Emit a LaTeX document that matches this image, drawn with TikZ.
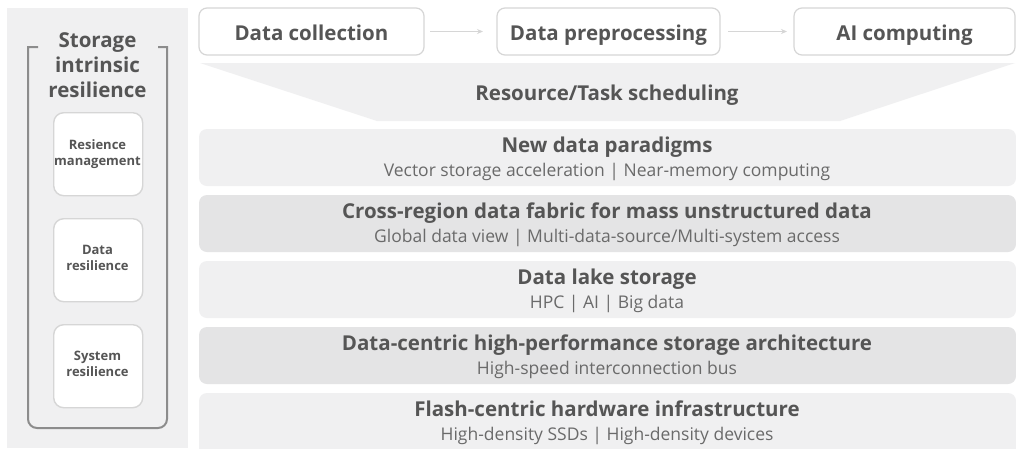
\documentclass[tikz,border=0pt]{standalone}
\usepackage{fontspec}
\setmainfont{Open Sans}
\usetikzlibrary{arrows.meta}
\definecolor{panelgray}{HTML}{F0F0F1}
\definecolor{bardark}{HTML}{E4E4E5}
\definecolor{edgegray}{HTML}{D6D6D6}
\definecolor{bracketgray}{HTML}{8C8C8C}
\definecolor{txtdark}{HTML}{555555}
\definecolor{txtsub}{HTML}{6A6A6A}
\tikzset{
  flowbox/.style={draw=edgegray, line width=1.2pt, fill=white, rounded corners=8pt},
  flowtext/.style={anchor=base, inner sep=0pt, font=\bfseries\fontsize{20.5}{24}\selectfont, text=txtdark},
  flowarrow/.style={draw=edgegray, line width=1pt, -{Stealth[length=6pt,width=5pt]}},
  layerlight/.style={fill=panelgray, draw=none, rounded corners=8pt},
  layerdark/.style={fill=bardark, draw=none, rounded corners=8pt},
  layertitle/.style={anchor=base, font=\bfseries\fontsize{20.5}{24}\selectfont, text=txtdark, inner sep=0pt},
  layersub/.style={anchor=base, font=\fontsize{17.5}{20}\selectfont, text=txtsub, inner sep=0pt},
  resbox/.style={draw=edgegray, line width=1.4pt, fill=white, rounded corners=10pt,
    minimum width=89pt, minimum height=83pt, anchor=north west, inner sep=0pt},
  restext/.style={anchor=base, inner sep=0pt, font=\bfseries\fontsize{13}{16}\selectfont, text=txtdark},
  sidetitle/.style={anchor=base, font=\bfseries\fontsize{20.5}{25}\selectfont, text=txtdark, inner sep=0pt}
}
\begin{document}
\begin{tikzpicture}[x=1pt,y=-1pt]
\useasboundingbox (0,0) rectangle (1016,448);
\fill[white] (0,0) rectangle (1016,448);

% left panel
\fill[panelgray] (7,8) rectangle (188,448);
\draw[bracketgray, line width=2pt]
  (38,47) -- (28,47) [rounded corners=9pt] -- (28,428) -- (167,428) [sharp corners] -- (167,47) -- (158,47);
\node[sidetitle] (t1) at (97.5,47) {Storage};
\node[sidetitle] (t2) at (97.5,72) {intrinsic};
\node[sidetitle] (t3) at (97.5,97) {resilience};

\node[resbox] (rm) at (53,112) {};
\node[restext] (rm1) at (97.5,149) {Resience};
\node[restext] (rm2) at (97.5,165) {management};
\node[resbox] (dr) at (53,218) {};
\node[restext] (dr1) at (97.5,254) {Data};
\node[restext] (dr2) at (97.5,270) {resilience};
\node[resbox] (sr) at (53,324) {};
\node[restext] (sr1) at (97.5,360) {System};
\node[restext] (sr2) at (97.5,376) {resilience};

% pipeline
\draw[flowbox] (199,8) rectangle (424,55);
\draw[flowbox] (497,8) rectangle (720,55);
\draw[flowbox] (794,8) rectangle (1015,55);
\coordinate (dcE) at (424,31.5);
\coordinate (dpW) at (497,31.5);
\coordinate (dpE) at (720,31.5);
\coordinate (aiW) at (794,31.5);
\node[flowtext] (dc) at (311.5,40) {Data collection};
\node[flowtext] (dp) at (608.5,40) {Data preprocessing};
\node[flowtext] (ai) at (904.5,40) {AI computing};
\draw[flowarrow] ([xshift=6pt]dcE) -- ([xshift=-14pt]dpW);
\draw[flowarrow] ([xshift=8pt]dpE) -- ([xshift=-7pt]aiW);

% scheduling funnel
\fill[panelgray] (200,63) -- (1015,63) -- (840,121) -- (377,121) -- cycle;
\node[layertitle] (sched) at (607,100) {Resource/Task scheduling};

% stacked layers
\fill[layerlight] (199,129) rectangle (1016,186);
\fill[layerdark]  (199,195) rectangle (1016,252);
\fill[layerlight] (199,261) rectangle (1016,318);
\fill[layerdark]  (199,327) rectangle (1016,384);
\fill[layerlight] (199,393) rectangle (1016,460);

\node[layertitle] (l1) at (607,152.5) {New data paradigms};
\node[layersub]   (s1) at (607,176) {Vector storage acceleration | Near-memory computing};
\node[layertitle] (l2) at (607,218.5) {Cross-region data fabric for mass unstructured data};
\node[layersub]   (s2) at (607,242) {Global data view | Multi-data-source/Multi-system access};
\node[layertitle] (l3) at (607,284.5) {Data lake storage};
\node[layersub]   (s3) at (607,308) {HPC | AI | Big data};
\node[layertitle] (l4) at (607,350.5) {Data-centric high-performance storage architecture};
\node[layersub]   (s4) at (607,374) {High-speed interconnection bus};
\node[layertitle] (l5) at (607,416.5) {Flash-centric hardware infrastructure};
\node[layersub]   (s5) at (607,440) {High-density SSDs | High-density devices};
\end{tikzpicture}
\end{document}
